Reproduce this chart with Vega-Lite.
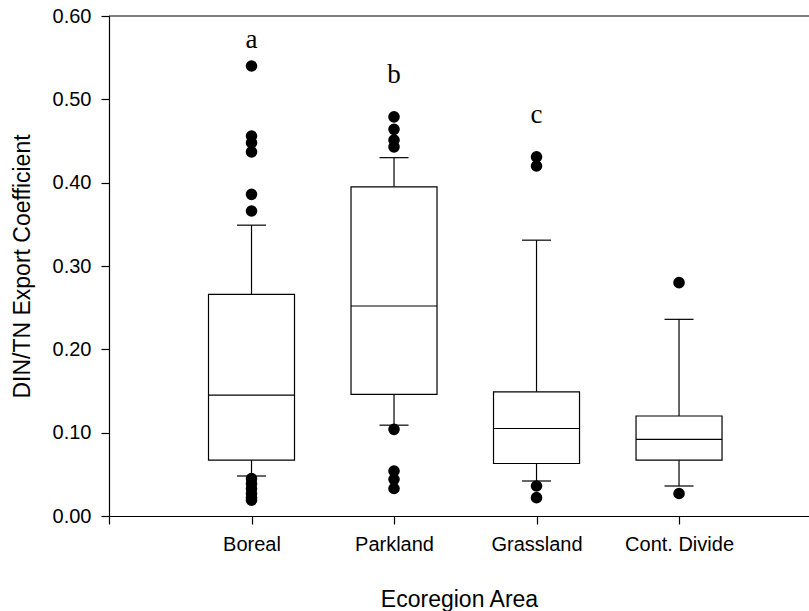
{
  "$schema": "https://vega.github.io/schema/vega-lite/v6.json",
  "width": 700,
  "height": 500,
  "autosize": {"type": "none"},
  "padding": {"left": 109, "top": 16, "right": 0, "bottom": 95},
  "background": "white",
  "config": {
    "view": {"stroke": null},
    "font": "Liberation Sans",
    "axis": {
      "grid": false,
      "domainColor": "black",
      "tickColor": "black",
      "labelColor": "black",
      "titleColor": "black",
      "titleFontWeight": "normal",
      "labelFont": "Liberation Sans",
      "titleFont": "Liberation Sans",
      "labelFontSize": 20,
      "titleFontSize": 23,
      "tickSize": 8,
      "domainWidth": 1.2,
      "tickWidth": 1.2
    }
  },
  "datasets": {
    "boxes": [
      {"region": "Boreal", "idx": 1, "lower": 0.048, "q1": 0.067, "median": 0.145, "q3": 0.266, "upper": 0.349, "letter": "a", "letterY": 0.562},
      {"region": "Parkland", "idx": 2, "lower": 0.109, "q1": 0.146, "median": 0.252, "q3": 0.395, "upper": 0.430, "letter": "b", "letterY": 0.520},
      {"region": "Grassland", "idx": 3, "lower": 0.042, "q1": 0.063, "median": 0.105, "q3": 0.149, "upper": 0.331, "letter": "c", "letterY": 0.472},
      {"region": "Cont. Divide", "idx": 4, "lower": 0.036, "q1": 0.067, "median": 0.092, "q3": 0.120, "upper": 0.236, "letter": "", "letterY": 0.3}
    ],
    "outliers": [
      {"region": "Boreal", "idx": 1, "value": 0.540},
      {"region": "Boreal", "idx": 1, "value": 0.456},
      {"region": "Boreal", "idx": 1, "value": 0.448},
      {"region": "Boreal", "idx": 1, "value": 0.437},
      {"region": "Boreal", "idx": 1, "value": 0.386},
      {"region": "Boreal", "idx": 1, "value": 0.366},
      {"region": "Boreal", "idx": 1, "value": 0.045},
      {"region": "Boreal", "idx": 1, "value": 0.039},
      {"region": "Boreal", "idx": 1, "value": 0.033},
      {"region": "Boreal", "idx": 1, "value": 0.027},
      {"region": "Boreal", "idx": 1, "value": 0.022},
      {"region": "Boreal", "idx": 1, "value": 0.019},
      {"region": "Parkland", "idx": 2, "value": 0.479},
      {"region": "Parkland", "idx": 2, "value": 0.464},
      {"region": "Parkland", "idx": 2, "value": 0.451},
      {"region": "Parkland", "idx": 2, "value": 0.443},
      {"region": "Parkland", "idx": 2, "value": 0.104},
      {"region": "Parkland", "idx": 2, "value": 0.054},
      {"region": "Parkland", "idx": 2, "value": 0.044},
      {"region": "Parkland", "idx": 2, "value": 0.033},
      {"region": "Grassland", "idx": 3, "value": 0.431},
      {"region": "Grassland", "idx": 3, "value": 0.420},
      {"region": "Grassland", "idx": 3, "value": 0.036},
      {"region": "Grassland", "idx": 3, "value": 0.022},
      {"region": "Cont. Divide", "idx": 4, "value": 0.280},
      {"region": "Cont. Divide", "idx": 4, "value": 0.027}
    ]
  },
  "layer": [
    {
      "data": {"name": "boxes"},
      "mark": {"type": "rule", "stroke": "black", "strokeWidth": 1.2},
      "encoding": {
        "x": {
          "field": "idx", "type": "quantitative",
          "scale": {"domain": [0, 4.912], "nice": false, "zero": false, "padding": 0},
          "axis": {
            "title": "Ecoregion Area",
            "values": [0, 1, 2, 3, 4],
            "labelExpr": "datum.value == 1 ? 'Boreal' : datum.value == 2 ? 'Parkland' : datum.value == 3 ? 'Grassland' : datum.value == 4 ? 'Cont. Divide' : ''",
            "labelPadding": 10,
            "titleY": 90,
            "titleBaseline": "alphabetic"
          }
        },
        "y": {
          "field": "lower", "type": "quantitative",
          "scale": {"domain": [0, 0.6], "nice": false, "padding": 0},
          "axis": {
            "title": "DIN/TN Export Coefficient",
            "values": [0, 0.1, 0.2, 0.3, 0.4, 0.5, 0.6],
            "format": ".2f",
            "labelPadding": 10,
            "titleX": -80,
            "titleBaseline": "alphabetic"
          }
        },
        "y2": {"field": "upper"}
      }
    },
    {
      "data": {"name": "boxes"},
      "mark": {"type": "bar", "orient": "vertical", "size": 86, "fill": "white", "stroke": "black", "strokeWidth": 1.2},
      "encoding": {
        "x": {"field": "idx", "type": "quantitative"},
        "y": {"field": "q1", "type": "quantitative"},
        "y2": {"field": "q3"}
      }
    },
    {
      "data": {"name": "boxes"},
      "mark": {"type": "tick", "orient": "horizontal", "size": 86, "thickness": 1.2, "color": "black", "opacity": 1},
      "encoding": {
        "x": {"field": "idx", "type": "quantitative"},
        "y": {"field": "median", "type": "quantitative"}
      }
    },
    {
      "data": {"name": "boxes"},
      "mark": {"type": "tick", "orient": "horizontal", "size": 29, "thickness": 1.2, "color": "black", "opacity": 1},
      "encoding": {
        "x": {"field": "idx", "type": "quantitative"},
        "y": {"field": "upper", "type": "quantitative"}
      }
    },
    {
      "data": {"name": "boxes"},
      "mark": {"type": "tick", "orient": "horizontal", "size": 29, "thickness": 1.2, "color": "black", "opacity": 1},
      "encoding": {
        "x": {"field": "idx", "type": "quantitative"},
        "y": {"field": "lower", "type": "quantitative"}
      }
    },
    {
      "data": {"name": "outliers"},
      "mark": {"type": "circle", "size": 135, "color": "black", "opacity": 1},
      "encoding": {
        "x": {"field": "idx", "type": "quantitative"},
        "y": {"field": "value", "type": "quantitative"}
      }
    },
    {
      "data": {"name": "boxes"},
      "mark": {"type": "text", "font": "Liberation Serif", "fontSize": 27, "baseline": "alphabetic", "align": "center", "color": "black"},
      "encoding": {
        "x": {"field": "idx", "type": "quantitative"},
        "y": {"field": "letterY", "type": "quantitative"},
        "text": {"field": "letter"}
      }
    },
    {
      "data": {"values": [{}]},
      "mark": {"type": "rule", "stroke": "black", "strokeWidth": 1.2},
      "encoding": {"y": {"datum": 0.6}}
    }
  ]
}
